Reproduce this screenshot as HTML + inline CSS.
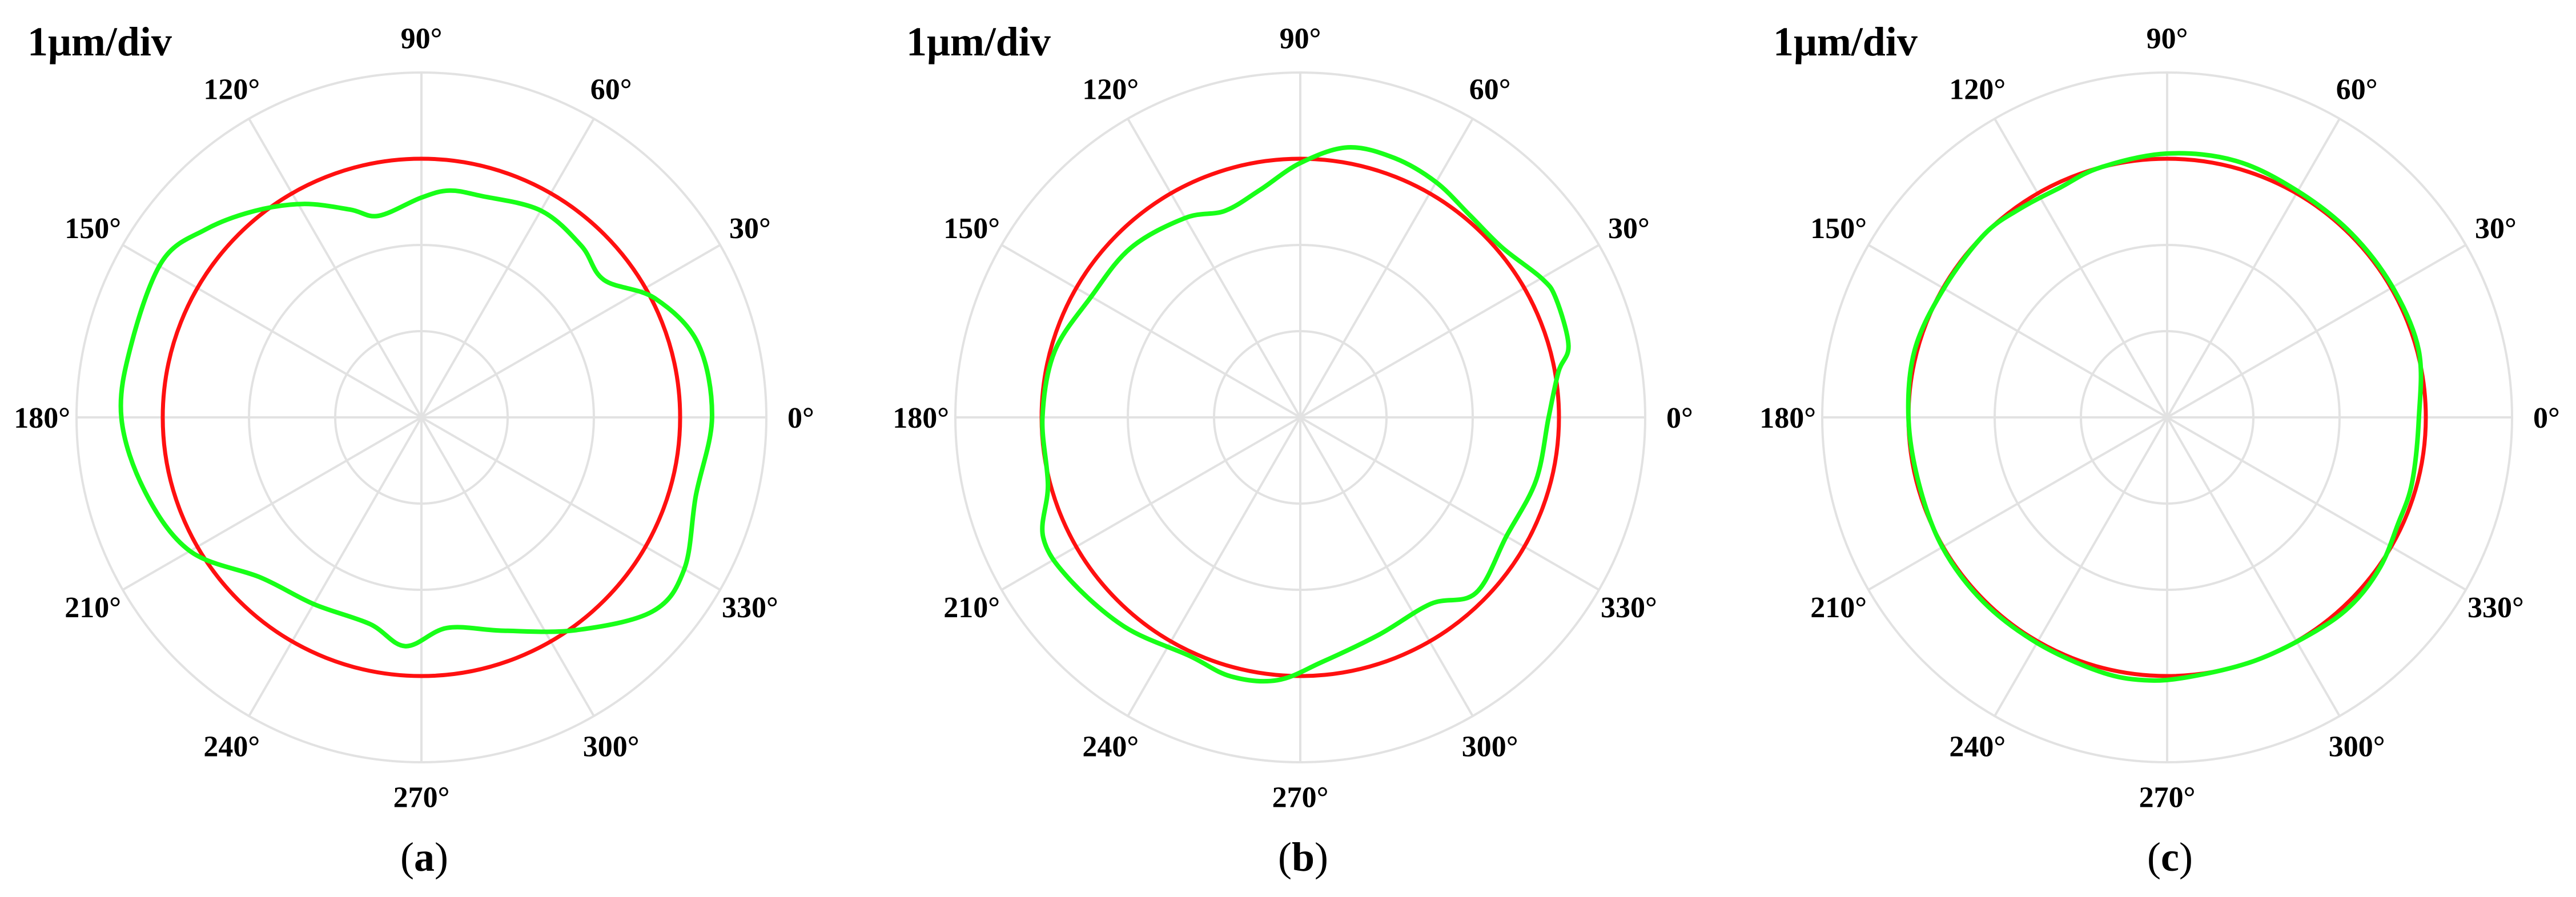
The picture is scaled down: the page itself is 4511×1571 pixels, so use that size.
<!DOCTYPE html>
<html><head><meta charset="utf-8"><style>
html,body{margin:0;padding:0;background:#fff;}
svg{display:block;}
</style></head><body>
<svg id="fig" width="4511" height="1571" viewBox="0 0 4511 1571" xmlns="http://www.w3.org/2000/svg"></svg>
<script>
// Panel (a) measured profile: angle (deg) and radius (um, 1 um/div)
const anglesA = [0,15,27,37,47,60,75,83,90,102,109,119,129,139,149,166,180,195,210,225,240,256,266,277,291,306,320,330,344];
const valuesA = [3.37,3.32,3.04,2.65,2.72,2.77,2.66,2.65,2.55,2.39,2.55,2.83,3.08,3.32,3.51,3.47,3.48,3.32,3.1,2.63,2.5,2.47,2.66,2.46,2.65,3.05,3.5,3.52,3.31];
// Panel (b)
const anglesB = [0,10,15,25,30,40,50,60,70,80,90,100,110,120,135,150,165,180,195,205,215,230,245,255,265,275,290,305,315,330,345];
const valuesB = [2.88,3.04,3.22,3.27,3.23,3.06,3.06,3.15,3.2,3.18,2.95,2.68,2.55,2.67,2.78,2.8,2.95,2.99,3.03,3.29,3.27,3.17,3.05,3.11,3.06,2.85,2.68,2.64,2.88,2.76,2.83];
// Panel (c)
const anglesC = [0,15,30,45,60,75,90,105,115,125,135,150,165,180,195,210,225,240,255,265,275,290,305,315,325,335,345];
const valuesC = [2.92,3.02,3.02,3.02,3.03,3.08,3.06,3.0,2.94,2.96,3.0,2.99,3.03,3.0,2.98,3.01,3.02,3.02,3.05,3.06,3.02,3.0,3.02,3.05,3.02,2.95,2.94];
// Reference circle radius (um) and ring ticks
const refRadius = [3.0, 3.0, 3.0];
const ringValues = [1,2,3,4];
const spokeAngles = [0,30,60,90,120,150,180,210,240,270,300,330];
const angleLabels = ["0°","30°","60°","90°","120°","150°","180°","210°","240°","270°","300°","330°"];
const panelLetters = ["a","b","c"];

const NS = "http://www.w3.org/2000/svg";
const svg = document.getElementById('fig');
const centersX = [738, 2277, 3795];
const CY = 731;
const PX_PER_UM = 151;
function rScale(v){ return v*PX_PER_UM; }
function pt(cx, deg, v){
  const a = deg*Math.PI/180;
  return [cx + rScale(v)*Math.cos(a), CY - rScale(v)*Math.sin(a)];
}
function mk(tag, attrs, parent){
  const e = document.createElementNS(NS, tag);
  for (const k in attrs) e.setAttribute(k, attrs[k]);
  (parent||svg).appendChild(e);
  return e;
}
function closedSpline(cx, angs, vals){
  const P = angs.map((a,i)=>pt(cx,a,vals[i]));
  const n = P.length;
  let d = "M"+P[0][0].toFixed(1)+","+P[0][1].toFixed(1);
  for (let i=0;i<n;i++){
    const p0=P[(i-1+n)%n], p1=P[i], p2=P[(i+1)%n], p3=P[(i+2)%n];
    const c1=[p1[0]+(p2[0]-p0[0])/6, p1[1]+(p2[1]-p0[1])/6];
    const c2=[p2[0]-(p3[0]-p1[0])/6, p2[1]-(p3[1]-p1[1])/6];
    d += " C"+c1[0].toFixed(1)+","+c1[1].toFixed(1)+" "+c2[0].toFixed(1)+","+c2[1].toFixed(1)+" "+p2[0].toFixed(1)+","+p2[1].toFixed(1);
  }
  return d+"Z";
}
const series = [[anglesA,valuesA],[anglesB,valuesB],[anglesC,valuesC]];
const fontS = '"Liberation Serif", serif';

for (let p=0;p<3;p++){
  const cx = centersX[p];
  const g = mk('g',{});
  
  
  ringValues.forEach(v=>{
    const c = mk('circle',{cx:cx,cy:CY,r:rScale(v),fill:'none',stroke:'#e2e2e2','stroke-width':4},g);
    
    
  });
  spokeAngles.forEach((a,i)=>{
    const e = pt(cx,a,ringValues[ringValues.length-1]);
    const l = mk('line',{x1:cx,y1:CY,x2:e[0],y2:e[1],stroke:'#e2e2e2','stroke-width':4},g);
    
    
    const lp = pt(cx,a,4.4);
    const t = mk('text',{x:lp[0],y:lp[1]+18,'text-anchor':'middle','font-family':fontS,'font-weight':'bold','font-size':52,fill:'#000'},g);
    t.textContent = angleLabels[i];
    
    
  });
  const red = mk('circle',{cx:cx,cy:CY,r:rScale(refRadius[p]),fill:'none',stroke:'#ff1010','stroke-width':7},g);
  
  
  const gr = mk('path',{d:closedSpline(cx,series[p][0],series[p][1]),fill:'none',stroke:'#18ff18','stroke-width':8,'stroke-linejoin':'round'},g);
  
  
  const sc = mk('text',{x:cx-690,y:97,'font-family':fontS,'font-weight':'bold','font-size':72,fill:'#000'},g);
  sc.textContent = '1μm/div';
  
  
  const cap = mk('text',{x:cx+5,y:1525,'text-anchor':'middle','font-family':fontS,'font-size':72,fill:'#000'},g);
  
  
  const t1 = mk('tspan',{},cap); t1.textContent='(';
  const t2 = mk('tspan',{'font-weight':'bold'},cap); t2.textContent=panelLetters[p];
  const t3 = mk('tspan',{},cap); t3.textContent=')';
}
</script>
</body></html>
